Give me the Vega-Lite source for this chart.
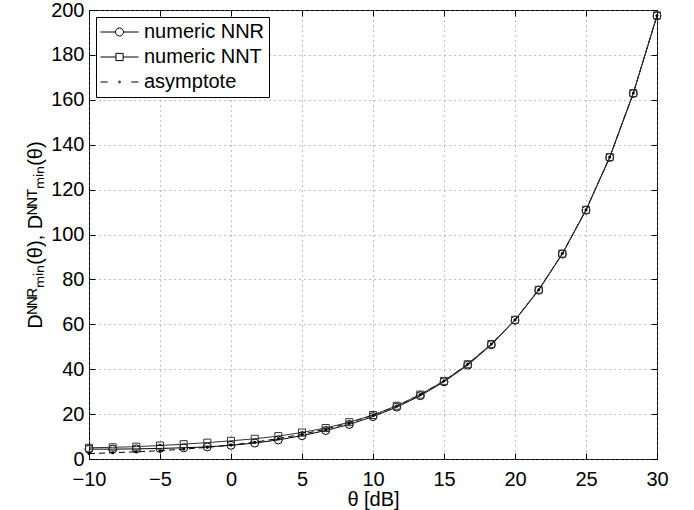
{
  "$schema": "https://vega.github.io/schema/vega-lite/v6.json",
  "width": 568,
  "height": 449,
  "autosize": "none",
  "padding": {"left": 89, "top": 10, "right": 37, "bottom": 51},
  "background": "white",
  "config": {
    "font": "Liberation Sans",
    "view": {"stroke": "black", "strokeWidth": 1},
    "axis": {"labelFont": "Liberation Sans", "titleFont": "Liberation Sans", "labelColor": "black", "titleColor": "black", "labelFontSize": 20, "titleFontSize": 20, "titleFontWeight": "normal"}
  },
  "datasets": {
    "curves": [
      {"x": -10, "nnr": 4.4, "nnt": 5.0, "asy": 2.4},
      {"x": -8.33, "nnr": 4.4, "nnt": 5.2, "asy": 2.8},
      {"x": -6.67, "nnr": 4.5, "nnt": 5.5, "asy": 3.2},
      {"x": -5, "nnr": 4.7, "nnt": 6.0, "asy": 3.7},
      {"x": -3.33, "nnr": 5.0, "nnt": 6.6, "asy": 4.4},
      {"x": -1.67, "nnr": 5.4, "nnt": 7.3, "asy": 5.2},
      {"x": 0, "nnr": 6.1, "nnt": 8.1, "asy": 6.2},
      {"x": 1.67, "nnr": 7.1, "nnt": 9.0, "asy": 7.5},
      {"x": 3.33, "nnr": 8.5, "nnt": 10.2, "asy": 9.1},
      {"x": 5, "nnr": 10.4, "nnt": 11.8, "asy": 11.0},
      {"x": 6.67, "nnr": 12.7, "nnt": 13.8, "asy": 13.3},
      {"x": 8.33, "nnr": 15.4, "nnt": 16.4, "asy": 16.1},
      {"x": 10, "nnr": 18.9, "nnt": 19.6, "asy": 19.5},
      {"x": 11.67, "nnr": 23.1, "nnt": 23.7, "asy": 23.6},
      {"x": 13.33, "nnr": 28.2, "nnt": 28.7, "asy": 28.7},
      {"x": 15, "nnr": 34.4, "nnt": 34.8, "asy": 34.8},
      {"x": 16.67, "nnr": 41.8, "nnt": 42.2, "asy": 42.3},
      {"x": 18.33, "nnr": 50.9, "nnt": 51.2, "asy": 51.2},
      {"x": 20, "nnr": 61.8, "nnt": 62.0, "asy": 62.0},
      {"x": 21.67, "nnr": 75.2, "nnt": 75.4, "asy": 75.4},
      {"x": 23.33, "nnr": 91.3, "nnt": 91.5, "asy": 91.5},
      {"x": 25, "nnr": 110.8, "nnt": 111.0, "asy": 111.0},
      {"x": 26.67, "nnr": 134.3, "nnt": 134.5, "asy": 134.5},
      {"x": 28.33, "nnr": 162.8, "nnt": 163.0, "asy": 163.0},
      {"x": 30, "nnr": 197.4, "nnt": 197.6, "asy": 197.6}
    ],
    "legendrows": [
      {"series": "numeric NNR"},
      {"series": "numeric NNT"},
      {"series": "asymptote"}
    ]
  },
  "data": {"name": "curves"},
  "resolve": {"axis": {"x": "independent", "y": "independent"}},
  "layer": [
    {
      "mark": {"type": "line", "color": "black", "strokeWidth": 1, "strokeDash": [6, 4]},
      "encoding": {
        "x": {"field": "x", "type": "quantitative", "scale": {"domain": [-10, 30], "nice": false, "zero": false},
          "axis": {"orient": "bottom", "values": [-10, -5, 0, 5, 10, 15, 20, 25, 30], "ticks": false, "domain": false, "grid": true, "gridColor": "#808080", "gridDash": [1, 4], "gridWidth": 1, "labelPadding": 10, "title": "θ [dB]", "titlePadding": 0, "labelFlush": false}},
        "y": {"field": "asy", "type": "quantitative", "scale": {"domain": [0, 200], "nice": false},
          "axis": {"orient": "left", "values": [0, 20, 40, 60, 80, 100, 120, 140, 160, 180, 200], "ticks": false, "domain": false, "grid": true, "gridColor": "#808080", "gridDash": [1, 4], "gridWidth": 1, "labelPadding": 5, "title": "Dᴺᴺᴿₘᵢₙ(θ), Dᴺᴺᵀₘᵢₙ(θ)", "titlePadding": 5, "labelFlush": false}}
      }
    },
    {
      "mark": {"type": "line", "color": "black", "strokeWidth": 1},
      "encoding": {
        "x": {"field": "x", "type": "quantitative", "axis": null},
        "y": {"field": "nnr", "type": "quantitative", "axis": null}
      }
    },
    {
      "mark": {"type": "line", "color": "#333333", "strokeWidth": 1},
      "encoding": {
        "x": {"field": "x", "type": "quantitative", "axis": null},
        "y": {"field": "nnt", "type": "quantitative", "axis": null}
      }
    },
    {
      "mark": {"type": "point", "shape": "circle", "size": 64, "filled": false, "color": "black", "strokeWidth": 1, "opacity": 1},
      "encoding": {
        "x": {"field": "x", "type": "quantitative",
          "axis": {"orient": "top", "values": [-10, -5, 0, 5, 10, 15, 20, 25, 30], "labels": false, "domain": false, "grid": false, "ticks": true, "tickSize": -6, "tickColor": "black", "title": null}},
        "y": {"field": "nnr", "type": "quantitative",
          "axis": {"orient": "right", "values": [0, 20, 40, 60, 80, 100, 120, 140, 160, 180, 200], "labels": false, "domain": false, "grid": false, "ticks": true, "tickSize": -6, "tickColor": "black", "title": null}}
      }
    },
    {
      "mark": {"type": "point", "shape": "square", "size": 49, "filled": false, "color": "#333333", "strokeWidth": 1, "opacity": 1},
      "encoding": {
        "x": {"field": "x", "type": "quantitative",
          "axis": {"orient": "bottom", "values": [-10, -5, 0, 5, 10, 15, 20, 25, 30], "labels": false, "domain": false, "grid": false, "ticks": true, "tickSize": -6, "tickColor": "black", "title": null}},
        "y": {"field": "nnt", "type": "quantitative",
          "axis": {"orient": "left", "values": [0, 20, 40, 60, 80, 100, 120, 140, 160, 180, 200], "labels": false, "domain": false, "grid": false, "ticks": true, "tickSize": -6, "tickColor": "black", "title": null}}
      }
    },
    {
      "mark": {"type": "point", "shape": "circle", "size": 9, "filled": true, "color": "black", "opacity": 1},
      "encoding": {
        "x": {"field": "x", "type": "quantitative", "axis": null},
        "y": {"field": "asy", "type": "quantitative", "axis": null}
      }
    },
    {
      "data": {"name": "legendrows"},
      "mark": {"type": "point", "filled": false, "color": "black", "strokeWidth": 1, "opacity": 1},
      "encoding": {
        "x": {"field": "lx", "type": "quantitative", "axis": null},
        "y": {"field": "ly", "type": "quantitative", "axis": null},
        "shape": {
          "field": "series", "type": "nominal",
          "scale": {
            "domain": ["numeric NNR", "numeric NNT", "asymptote"],
            "range": [
              "M-1,0H-0.21M0.21,0H1M-0.21,0A0.21,0.21 0 1,1 0.21,0A0.21,0.21 0 1,1 -0.21,0Z",
              "M-1,0H-0.19M0.19,0H1M-0.19,-0.19H0.19V0.19H-0.19Z",
              "M-1,0H-0.62M0.62,0H1M-0.05,0A0.05,0.05 0 1,1 0.05,0A0.05,0.05 0 1,1 -0.05,0Z"
            ]
          },
          "legend": {
            "title": null,
            "orient": "top-left",
            "offset": 7,
            "padding": 4,
            "strokeColor": "black",
            "fillColor": "white",
            "cornerRadius": 0,
            "labelFont": "Liberation Sans",
            "labelFontSize": 20,
            "labelColor": "black",
            "labelOffset": 5,
            "symbolSize": 1444,
            "symbolStrokeWidth": 1,
            "symbolStrokeColor": "black",
            "symbolFillColor": "transparent",
            "symbolOpacity": 1,
            "clipHeight": 22,
            "rowPadding": 3
          }
        }
      }
    }
  ]
}
